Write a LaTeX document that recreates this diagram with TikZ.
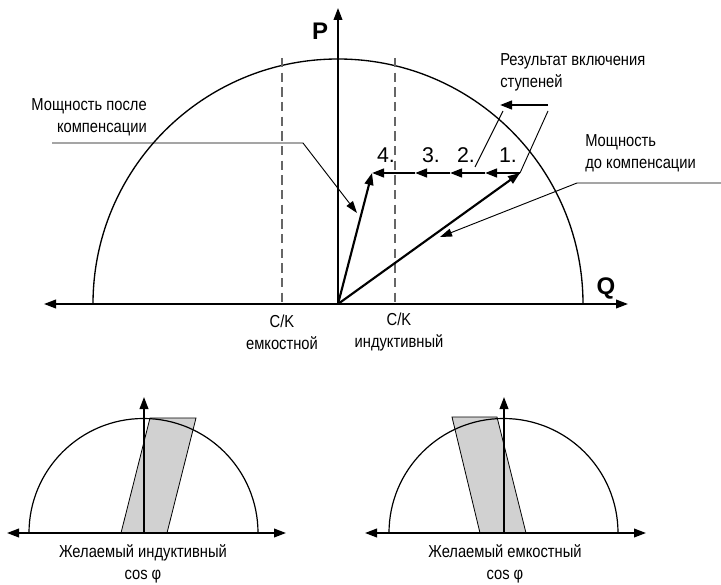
\documentclass[tikz,border=0pt]{standalone}
\usepackage{fontspec}
\setmainfont{Liberation Sans}[FakeStretch=0.85]
\newfontfamily\numfont{Liberation Sans}
\usetikzlibrary{arrows.meta}
\begin{document}
\begin{tikzpicture}[x=0.75pt,y=-0.75pt,
  axis/.style={line width=1.3pt,-{Triangle[length=9pt,width=6.5pt]}},
  vec/.style={line width=1.6pt,-{Triangle[length=9pt,width=6.5pt]}},
  lead/.style={line width=0.7pt},
  leadarr/.style={line width=0.7pt,-{Triangle[length=9pt,width=6pt]}},
  cmk/.style={line width=0.9pt,dash pattern=on 7pt off 4pt,gray!80!black},
  lbl/.style={inner sep=0pt,font=\fontsize{13pt}{16.5pt}\selectfont},
  num/.style={inner sep=0pt,font=\numfont\fontsize{16pt}{18pt}\selectfont},
  big/.style={inner sep=0pt,font=\numfont\bfseries\fontsize{18pt}{18pt}\selectfont},
  sect/.style={draw,line width=0.6pt,fill=black!18}]
\useasboundingbox (0,0) rectangle (721,585);
% main axes
\coordinate (O) at (338,304);
\coordinate (Qr) at (628,304);
\coordinate (Ql) at (44,304);
\coordinate (Pt) at (338,8);
\draw[line width=1pt] (583,304) arc[start angle=0,end angle=-180,radius=245];
\draw[cmk] (282,58) -- (282,304);
\draw[cmk] (395,58) -- (395,304);
\draw[axis] (O) -- (Qr);
\draw[axis] (O) -- (Ql);
\draw[axis] (O) -- (Pt);
\node[big] (P) at (320,31) {P};
\node[big] (Q) at (606,288) {Q};
\node[lbl,align=center] (ck1) at (282,332) {C/K\\емкостной};
\node[lbl,align=center] (ck2) at (399,332) {C/K\\индуктивный};
% vectors
\coordinate (A) at (520,173);
\coordinate (B3) at (485,173);
\coordinate (B2) at (450,173);
\coordinate (B1) at (415,173);
\coordinate (C) at (372,173);
\draw[vec] (O) -- (A);
\draw[vec] (O) -- (C);
\draw[vec] (A) -- (B3);
\draw[vec] (B3) -- (B2);
\draw[vec] (B2) -- (B1);
\draw[vec] (B1) -- (C);
\node[num] (n4) at (386,155) {4.};
\node[num] (n3) at (431,155) {3.};
\node[num] (n2) at (466,155) {2.};
\node[num] (n1) at (508,155) {1.};
% step label
\node[lbl,align=left,anchor=north west] (res) at (500,53) {Результат включения\\ступеней};
\coordinate (s1) at (548,105);
\coordinate (s2) at (500,105);
\draw[vec] (s1) -- (s2);
\coordinate (l1a) at (503,111);
\coordinate (l1b) at (475,167);
\coordinate (l2a) at (548,111);
\coordinate (l2b) at (520,173);
\draw[lead] (l1a) -- (l1b);
\draw[lead] (l2a) -- (l2b);
% before compensation
\node[lbl,align=left,anchor=north west] (before) at (585,134) {Мощность\\до компенсации};
\coordinate (b1) at (721,183);
\coordinate (b2) at (577,183);
\coordinate (b3) at (440,237);
\draw[leadarr] (b1) -- (b2) -- (b3);
% after compensation
\node[lbl,align=right,anchor=north east] (after) at (147,98) {Мощность после\\компенсации};
\coordinate (a1) at (52,143);
\coordinate (a2) at (303,143);
\coordinate (a3) at (357,213);
\draw[leadarr] (a1) -- (a2) -- (a3);
% bottom left
\coordinate (O2) at (144,533);
\coordinate (O2r) at (286,533);
\coordinate (O2l) at (7,533);
\coordinate (O2t) at (144,397);
\draw[sect] (121,533) -- (167,533) -- (196,418) -- (150,418) -- cycle;
\draw[line width=0.9pt] (258,533) arc[start angle=0,end angle=-180,radius=114.5];
\draw[axis] (O2) -- (O2r);
\draw[axis] (O2) -- (O2l);
\draw[axis] (O2) -- (O2t);
\node[lbl,align=center,anchor=north] (ind) at (143,544) {Желаемый индуктивный\\cos φ};
% bottom right
\coordinate (O3) at (504,533);
\coordinate (O3r) at (646,533);
\coordinate (O3l) at (365,533);
\coordinate (O3t) at (504,397);
\draw[sect] (480,533) -- (526,533) -- (497,417) -- (452,417) -- cycle;
\draw[line width=0.9pt] (618,533) arc[start angle=0,end angle=-180,radius=114.5];
\draw[axis] (O3) -- (O3r);
\draw[axis] (O3) -- (O3l);
\draw[axis] (O3) -- (O3t);
\node[lbl,align=center,anchor=north] (cap) at (505,544) {Желаемый емкостный\\cos φ};
\end{tikzpicture}
\end{document}
